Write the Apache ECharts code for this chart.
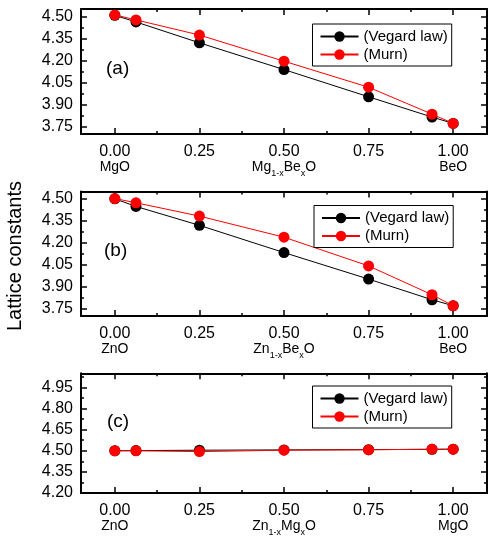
<!DOCTYPE html>
<html><head><meta charset="utf-8">
<script src="https://cdn.jsdelivr.net/npm/echarts@6/dist/echarts.min.js"></script>
<style>html,body{margin:0;padding:0;background:#fff}#c{width:488px;height:537px}</style>
</head><body><div id="c"></div>
<script>
// ---- data ----
const xValues = [0, 0.0625, 0.25, 0.5, 0.75, 0.9375, 1.0];
const vegardA = [4.507, 4.462, 4.320, 4.138, 3.953, 3.815, 3.772];
const murnA   = [4.510, 4.476, 4.373, 4.195, 4.018, 3.835, 3.772];
const vegardB = [4.500, 4.448, 4.319, 4.133, 3.952, 3.811, 3.770];
const murnB   = [4.502, 4.473, 4.382, 4.238, 4.042, 3.845, 3.770];
const vegardC = [4.500, 4.501, 4.504, 4.506, 4.508, 4.510, 4.511];
const murnC   = [4.500, 4.500, 4.494, 4.504, 4.507, 4.511, 4.511];
const seriesNames = ['(Vegard law)', '(Murn)'];
const panelLabels = ['(a)', '(b)', '(c)'];
const xTickLabels = ['0.00', '0.25', '0.50', '0.75', '1.00'];
const xMinorTicks = [0.125, 0.375, 0.625, 0.875];
const yTickLabelsAB = ['3.75', '3.90', '4.05', '4.20', '4.35', '4.50'];
const yMinorTicksAB = [3.825, 3.975, 4.125, 4.275, 4.425];
const yTickLabelsC = ['4.20', '4.35', '4.50', '4.65', '4.80', '4.95'];
const yMinorTicksC = [4.275, 4.425, 4.575, 4.725, 4.875, 5.025];
// compound labels: [left end, formula tokens (text, isSub), right end]
const compoundsA = ['MgO', [['Mg',0],['1-x',1],['Be',0],['x',1],['O',0]], 'BeO'];
const compoundsB = ['ZnO', [['Zn',0],['1-x',1],['Be',0],['x',1],['O',0]], 'BeO'];
const compoundsC = ['ZnO', [['Zn',0],['1-x',1],['Mg',0],['x',1],['O',0]], 'MgO'];
const yLabel = 'Lattice constants';

// ---- layout ----
const FONT = 'Liberation Sans, Arial, sans-serif';
const grids = [
  { left: 81, right: 1, top: 9, height: 125 },
  { left: 81, right: 1, top: 191.5, height: 124.5 },
  { left: 81, right: 1, top: 373.3, height: 124 }
];
const yRanges = [[3.70, 4.55], [3.70, 4.55], [4.20, 5.05]];
const yLabelsPer = [yTickLabelsAB, yTickLabelsAB, yTickLabelsC];
const yMinorPer = [yMinorTicksAB, yMinorTicksAB, yMinorTicksC];
const compoundsPer = [compoundsA, compoundsB, compoundsC];
const vegardPer = [vegardA, vegardB, vegardC];
const murnPer = [murnA, murnB, murnC];
const legendPos = [[312.5, 24], [314, 205.5], [312.5, 386]];
const panelPos = [[106, 59], [104, 241], [107, 412]];

const xMajor = xTickLabels.map(Number);
const lineW = 2;
const tickStyle = { color: '#000', width: 1.5 };

function compRich(tokens) {
  if (typeof tokens === 'string') return '{c|' + tokens + '}';
  return tokens.map(t => (t[1] ? '{s|' : '{c|') + t[0] + '}').join('');
}

const xAxes = [], yAxes = [], series = [], legends = [], titles = [];
grids.forEach((g, gi) => {
  const comp = compoundsPer[gi];
  const base = { type: 'value', gridIndex: gi, min: -0.1, max: 1.1, splitLine: { show: false } };
  xAxes.push(Object.assign({}, base, {
    position: 'bottom',
    axisLine: { show: true, onZero: false, lineStyle: { color: '#000', width: lineW } },
    axisTick: { show: true, inside: true, length: 6, customValues: xMajor, lineStyle: tickStyle },
    axisLabel: {
      show: true, customValues: xMajor, margin: 9, color: '#000',
      formatter: function (v) {
        const i = xMajor.findIndex(m => Math.abs(m - v) < 1e-6);
        let s = '{t|' + (i >= 0 ? xTickLabels[i] : '') + '}';
        if (Math.abs(v) < 1e-6) s += '\n' + compRich(comp[0]);
        else if (Math.abs(v - 0.5) < 1e-6) s += '\n' + compRich(comp[1]);
        else if (Math.abs(v - 1) < 1e-6) s += '\n' + compRich(comp[2]);
        return s;
      },
      rich: {
        t: { fontSize: 16, lineHeight: 17, fontFamily: FONT, color: '#000' },
        c: { fontSize: 14, lineHeight: 15, verticalAlign: 'top', fontFamily: FONT, color: '#000' },
        s: { fontSize: 9, lineHeight: 9, verticalAlign: 'top', padding: [9, 0, 0, 0], fontFamily: FONT, color: '#000' }
      }
    }
  }));
  xAxes.push(Object.assign({}, base, {
    position: 'bottom', axisLine: { show: false, onZero: false }, axisLabel: { show: false },
    axisTick: { show: true, inside: true, length: 3, customValues: xMinorTicks, lineStyle: tickStyle }
  }));
  xAxes.push(Object.assign({}, base, {
    position: 'top', axisLine: { show: true, onZero: false, lineStyle: { color: '#000', width: lineW } }, axisLabel: { show: false },
    axisTick: { show: true, inside: true, length: 6, customValues: xMajor, lineStyle: tickStyle }
  }));
  xAxes.push(Object.assign({}, base, {
    position: 'top', axisLine: { show: false, onZero: false }, axisLabel: { show: false },
    axisTick: { show: true, inside: true, length: 3, customValues: xMinorTicks, lineStyle: tickStyle }
  }));

  const yMaj = yLabelsPer[gi].map(Number);
  const yb = { type: 'value', gridIndex: gi, min: yRanges[gi][0], max: yRanges[gi][1], splitLine: { show: false } };
  yAxes.push(Object.assign({}, yb, {
    position: 'left',
    axisLine: { show: true, onZero: false, lineStyle: { color: '#000', width: lineW } },
    axisTick: { show: true, inside: true, length: 6, customValues: yMaj, lineStyle: tickStyle },
    axisLabel: { show: true, customValues: yMaj, margin: 8, color: '#000', fontSize: 16, fontFamily: FONT,
      formatter: v => { const i = yMaj.findIndex(m => Math.abs(m - v) < 1e-6); return i >= 0 ? yLabelsPer[gi][i] : ''; } }
  }));
  yAxes.push(Object.assign({}, yb, {
    position: 'left', axisLine: { show: false, onZero: false }, axisLabel: { show: false },
    axisTick: { show: true, inside: true, length: 3, customValues: yMinorPer[gi], lineStyle: tickStyle }
  }));
  yAxes.push(Object.assign({}, yb, {
    position: 'right', axisLine: { show: true, onZero: false, lineStyle: { color: '#000', width: lineW } }, axisLabel: { show: false },
    axisTick: { show: true, inside: true, length: 6, customValues: yMaj, lineStyle: tickStyle }
  }));
  yAxes.push(Object.assign({}, yb, {
    position: 'right', axisLine: { show: false, onZero: false }, axisLabel: { show: false },
    axisTick: { show: true, inside: true, length: 3, customValues: yMinorPer[gi], lineStyle: tickStyle }
  }));

  const mk = (name, vals, color, z) => ({
    type: 'line', name: name, xAxisIndex: gi * 4, yAxisIndex: gi * 4,
    data: xValues.map((x, i) => [x, vals[i]]),
    symbol: 'circle', symbolSize: 11, showSymbol: true,
    lineStyle: { color: color, width: 1 }, itemStyle: { color: color },
    z: z, animation: false, emphasis: { disabled: true }
  });
  series.push(mk(seriesNames[0], vegardPer[gi], '#000000', 2));
  series.push(mk(seriesNames[1], murnPer[gi], '#ff0000', 3));

  legends.push({
    left: legendPos[gi][0], top: legendPos[gi][1], orient: 'vertical',
    itemWidth: 38, itemHeight: 13, itemGap: 3, padding: [5, 4, 4, 7],
    borderColor: '#000', borderWidth: 1, borderRadius: 0,
    textStyle: { fontSize: 15, fontFamily: FONT, color: '#000' },
    data: seriesNames, selectedMode: false
  });
  titles.push({
    text: panelLabels[gi], left: panelPos[gi][0], top: panelPos[gi][1], padding: 0,
    textStyle: { fontSize: 19, fontWeight: 'normal', fontFamily: FONT, color: '#000' }
  });
});

const chart = echarts.init(document.getElementById('c'), null, { renderer: 'canvas' });
chart.setOption({
  backgroundColor: '#fff',
  animation: false,
  title: titles,
  grid: grids,
  xAxis: xAxes,
  yAxis: yAxes,
  legend: legends,
  series: series,
  graphic: [{
    type: 'text', x: 15, y: 256, rotation: Math.PI / 2,
    style: { text: yLabel, fontSize: 20, fontFamily: FONT, fill: '#000', align: 'center', verticalAlign: 'middle' }
  }]
});
</script></body></html>
